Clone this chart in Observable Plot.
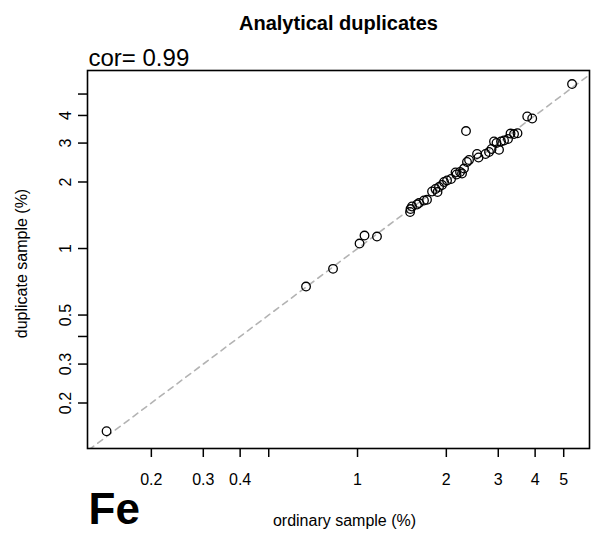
<!DOCTYPE html>
<html>
<head>
<meta charset="utf-8">
<script src="https://cdn.jsdelivr.net/npm/d3@7"></script>
<script src="https://cdn.jsdelivr.net/npm/@observablehq/plot@0.6"></script>
<style>
  html, body { margin: 0; padding: 0; background: #fff; }
  #chart { width: 594px; height: 533px; }
</style>
</head>
<body>
<div id="chart"></div>
<script>
// Ordinary sample (%) vs duplicate sample (%), Fe
const ordinary = [0.141, 0.669, 0.826, 1.016, 1.056, 1.164, 1.507, 1.512, 1.530, 1.591,
  1.616, 1.680, 1.720, 1.789, 1.838, 1.867, 1.889, 1.934, 1.965, 2.011,
  2.075, 2.149, 2.166, 2.226, 2.261, 2.296, 2.332, 2.350, 2.388, 2.542,
  2.572, 2.716, 2.791, 2.847, 2.902, 2.959, 3.018, 3.065, 3.138, 3.237,
  3.301, 3.393, 3.486, 3.761, 3.910, 5.336];
const duplicate = [0.149, 0.673, 0.809, 1.053, 1.145, 1.133, 1.463, 1.509, 1.549, 1.582,
  1.606, 1.649, 1.661, 1.811, 1.859, 1.802, 1.898, 1.938, 2.000, 2.031,
  2.063, 2.208, 2.162, 2.219, 2.185, 2.301, 3.401, 2.463, 2.515, 2.677,
  2.581, 2.677, 2.733, 2.820, 3.050, 3.002, 2.797, 3.050, 3.082, 3.130,
  3.313, 3.296, 3.324, 3.956, 3.875, 5.550];

const xTicks = [0.2, 0.3, 0.4, 0.5, 1, 2, 3, 4, 5];
const xTickLabels = ["0.2", "0.3", "0.4", "", "1", "2", "3", "4", "5"];
const yTicks = [0.2, 0.3, 0.4, 0.5, 1, 2, 3, 4, 5];
const yTickLabels = ["0.2", "0.3", "", "0.5", "1", "2", "3", "4", ""];
const xDomain = [0.1215, 6.115];
const yDomain = [0.1245, 6.39];
const identity = [0.1, 10];   // y = x reference line

const title = "Analytical duplicates";
const corText = "cor= 0.99";
const element = "Fe";
const xTitle = "ordinary sample (%)";
const yTitle = "duplicate sample (%)";

const points = ordinary.map((x, i) => ({x, y: duplicate[i]}));
const xLab = xTicks.map((t, i) => ({t, label: xTickLabels[i]})).filter(d => d.label);
const yLab = yTicks.map((t, i) => ({t, label: yTickLabels[i]})).filter(d => d.label);

const plotH = 533 - 70 - 85;
const plotW = 594 - 87 - 5;

const chart = Plot.plot({
  width: 594,
  height: 533,
  marginTop: 70,
  marginBottom: 85,
  marginLeft: 87,
  marginRight: 5,
  style: {fontFamily: "'Liberation Sans', Arial, sans-serif", background: "#fff", color: "#000"},
  x: {type: "log", domain: xDomain, axis: null},
  y: {type: "log", domain: yDomain, axis: null},
  marks: [
    Plot.line(identity, {x: d => d, y: d => d, stroke: "#b3b3b3", strokeWidth: 1.6, strokeDasharray: "6,5", clip: true}),
    Plot.dot(points, {x: "x", y: "y", r: 4.3, stroke: "#000", strokeWidth: 1.3, fill: "none"}),
    Plot.frame({stroke: "#000", strokeWidth: 1.6}),
    // x ticks below the frame
    Plot.ruleX(xTicks, {x: d => d, insetTop: plotH, insetBottom: -9, stroke: "#000", strokeWidth: 1.5}),
    Plot.text(xLab, {x: "t", text: "label", frameAnchor: "bottom", dy: 36, fontSize: 16}),
    // y ticks left of the frame
    Plot.ruleY(yTicks, {y: d => d, insetRight: plotW, insetLeft: -9, stroke: "#000", strokeWidth: 1.5}),
    Plot.text(yLab, {y: "t", text: "label", frameAnchor: "left", textAnchor: "middle", dx: -22, rotate: -90, fontSize: 16}),
    Plot.text([title], {frameAnchor: "top", textAnchor: "middle", dy: -55, fontSize: 20, fontWeight: "bold"}),
    Plot.text([corText], {frameAnchor: "top-left", textAnchor: "start", lineAnchor: "bottom", dy: -5, dx: 1, fontSize: 24}),
    Plot.text([element], {frameAnchor: "bottom-left", textAnchor: "start", lineAnchor: "bottom", dy: 75, dx: 1, fontSize: 44, fontWeight: "bold"}),
    Plot.text([xTitle], {frameAnchor: "bottom", textAnchor: "middle", dy: 77, dx: 6, fontSize: 16}),
    Plot.text([yTitle], {frameAnchor: "left", textAnchor: "middle", dx: -66, dy: 4, rotate: -90, fontSize: 16})
  ]
});
document.getElementById("chart").appendChild(chart);
</script>
</body>
</html>
